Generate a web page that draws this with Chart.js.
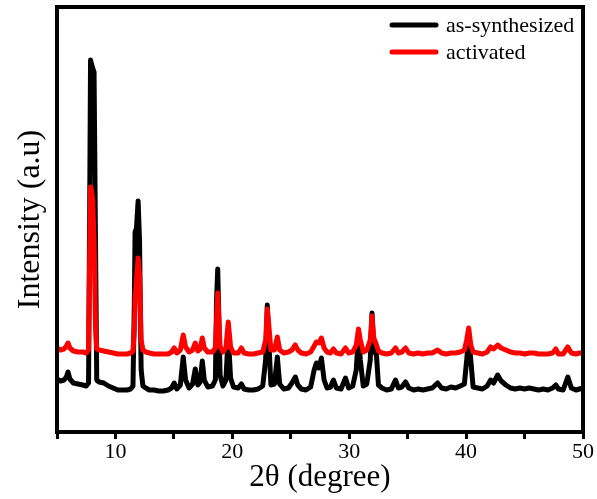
<!DOCTYPE html>
<html>
<head>
<meta charset="utf-8">
<script src="https://cdn.jsdelivr.net/npm/chart.js@4/dist/chart.umd.min.js"></script>
<style>
  html, body { margin: 0; padding: 0; background: #fff; }
  #wrap { width: 597px; height: 499px; }
</style>
</head>
<body>
<div id="wrap"><canvas id="xrd"></canvas></div>
<script>
// 2theta positions (degree)
const twoTheta = [
  5.0, 5.3, 5.6, 5.8, 5.94, 6.1, 6.4, 6.8, 7.2, 7.5,
  7.7, 7.8, 7.87, 7.95, 8.05, 8.17, 8.3, 8.4, 8.6, 9.0,
  9.4, 9.8, 10.2, 10.6, 11.0, 11.3, 11.5, 11.62, 11.68, 11.8,
  11.94, 12.06, 12.2, 12.35, 12.6, 12.9, 13.3, 13.7, 14.1, 14.5,
  14.8, 15.03, 15.25, 15.55, 15.8, 16.0, 16.3, 16.6, 16.83, 17.05,
  17.25, 17.43, 17.6, 17.9, 18.3, 18.55, 18.65, 18.75, 18.85, 18.95,
  19.2, 19.45, 19.65, 19.85, 20.1, 20.5, 20.77, 21.0, 21.4, 21.8,
  22.2, 22.6, 22.85, 22.99, 23.12, 23.3, 23.6, 23.85, 24.05, 24.4,
  24.8, 25.1, 25.39, 25.6, 25.9, 26.3, 26.7, 27.0, 27.19, 27.4,
  27.62, 27.85, 28.1, 28.4, 28.65, 28.9, 29.3, 29.68, 29.95, 30.3,
  30.6, 30.79, 30.95, 31.2, 31.5, 31.8, 31.95, 32.1, 32.33, 32.5,
  32.8, 33.2, 33.6, 33.96, 34.2, 34.5, 34.82, 35.1, 35.5, 35.9,
  36.3, 36.7, 37.1, 37.56, 37.9, 38.3, 38.7, 39.1, 39.5, 39.85,
  40.05, 40.22, 40.4, 40.6, 41.0, 41.4, 41.8, 42.1, 42.35, 42.7,
  43.0, 43.4, 43.8, 44.2, 44.6, 45.0, 45.4, 45.8, 46.2, 46.6,
  47.0, 47.4, 47.67, 47.9, 48.3, 48.7, 49.0, 49.4, 49.7, 50.0
];

// intensity, as-synthesized (a.u.)
const asSynthesized = [
  53, 51, 52, 55, 60, 53, 49, 48, 47, 46,
  49, 232, 372, 368, 364, 360, 182, 52, 50, 49,
  46, 44, 42, 42, 42, 43, 46, 132, 200, 204,
  231, 192, 62, 46, 44, 42, 42, 41, 41, 42,
  44, 49, 43, 47, 75, 52, 44, 48, 63, 47,
  50, 71, 52, 45, 46, 52, 132, 163, 112, 57,
  46, 52, 97, 54, 45, 44, 48, 43, 42, 42,
  43, 46, 72, 127, 92, 47, 48, 75, 48, 43,
  44, 49, 55, 47, 43, 42, 45, 62, 69, 64,
  74, 52, 44, 45, 52, 44, 43, 54, 44, 46,
  62, 97, 72, 46, 48, 72, 119, 82, 77, 47,
  44, 42, 43, 52, 44, 45, 50, 44, 42, 43,
  42, 43, 44, 49, 44, 43, 45, 44, 46, 48,
  72, 96, 72, 45, 44, 43, 46, 52, 49, 57,
  51, 47, 44, 43, 44, 43, 44, 43, 42, 43,
  42, 44, 47, 43, 42, 55, 44, 42, 43, 44
];

// intensity, activated (a.u.)
const activated = [
  84, 82, 83, 86, 89, 84, 81, 80, 80, 79,
  82, 182, 245, 242, 232, 192, 102, 83, 82, 81,
  80, 79, 78, 78, 78, 79, 81, 102, 132, 152,
  174, 157, 92, 82, 80, 79, 78, 78, 78, 78,
  80, 84, 79, 82, 97, 85, 80, 82, 89, 81,
  83, 94, 84, 80, 80, 84, 112, 139, 112, 86,
  80, 84, 110, 85, 79, 79, 84, 79, 78, 78,
  79, 80, 92, 123, 107, 82, 82, 95, 82, 79,
  80, 82, 87, 82, 79, 78, 80, 86, 90, 89,
  94, 84, 80, 79, 83, 79, 78, 84, 79, 80,
  87, 103, 92, 80, 82, 92, 116, 94, 87, 81,
  79, 78, 79, 84, 79, 80, 84, 79, 78, 79,
  78, 79, 79, 82, 79, 78, 79, 79, 80, 82,
  92, 104, 87, 80, 79, 78, 80, 85, 83, 87,
  84, 82, 80, 79, 79, 78, 79, 79, 78, 78,
  78, 79, 83, 78, 78, 85, 79, 78, 79, 79
];

const xTicks = [10, 20, 30, 40, 50];

const serif = "'Liberation Serif', 'Times New Roman', serif";

function toPoints(ys) {
  return twoTheta.map((x, i) => ({ x: x, y: ys[i] }));
}

// frame (top + right sides) and the legend inside the plot
const frameAndLegend = {
  id: 'frameAndLegend',
  afterDraw(chart) {
    const ctx = chart.ctx;
    const a = chart.chartArea;
    ctx.save();
    ctx.strokeStyle = '#000';
    ctx.lineWidth = 4;
    ctx.strokeRect(a.left, a.top, a.right - a.left, a.bottom - a.top);

    ctx.font = '22px ' + serif;
    ctx.textBaseline = 'middle';
    ctx.lineCap = 'round';
    chart.data.datasets.forEach(function(ds, i) {
      const y = 25 + i * 27;
      ctx.strokeStyle = ds.borderColor;
      ctx.lineWidth = 5;
      ctx.beginPath();
      ctx.moveTo(392, y);
      ctx.lineTo(436, y);
      ctx.stroke();
      ctx.fillStyle = '#000';
      ctx.fillText(ds.label, 446, y + 1);
    });
    ctx.restore();
  }
};

new Chart(document.getElementById('xrd'), {
  type: 'line',
  data: {
    datasets: [{
      label: 'as-synthesized',
      data: toPoints(asSynthesized),
      borderColor: '#000000',
      borderWidth: 5,
      pointRadius: 0,
      tension: 0,
      borderJoinStyle: 'round',
      borderCapStyle: 'round',
      order: 1
    }, {
      label: 'activated',
      data: toPoints(activated),
      borderColor: '#ff0000',
      borderWidth: 5,
      pointRadius: 0,
      tension: 0,
      borderJoinStyle: 'round',
      borderCapStyle: 'round',
      order: 0
    }]
  },
  options: {
    responsive: true,
    maintainAspectRatio: false,
    animation: false,
    layout: { padding: { top: 7, right: 14, left: 0, bottom: 0 } },
    plugins: {
      legend: { display: false },
      tooltip: { enabled: false }
    },
    scales: {
      x: {
        type: 'linear',
        min: 5,
        max: 50,
        afterFit: function(scale) { scale.height = 67; },
        ticks: {
          stepSize: 5,
          autoSkip: false,
          maxRotation: 0,
          padding: 0,
          color: '#000',
          font: { family: serif, size: 22 },
          callback: function(v) { return xTicks.includes(v) ? String(v) : ''; }
        },
        grid: {
          drawOnChartArea: false,
          drawTicks: true,
          tickLength: 7,
          tickWidth: 3,
          tickColor: '#000'
        },
        border: { display: true, color: '#000', width: 4 },
        title: {
          display: true,
          text: '2θ (degree)',
          color: '#000',
          font: { family: serif, size: 31 },
          padding: { top: 0, bottom: 3 }
        }
      },
      y: {
        min: 0,
        max: 425,
        afterFit: function(scale) { scale.width = 57; },
        ticks: { display: false },
        grid: { display: false },
        border: { display: true, color: '#000', width: 4 },
        title: {
          display: true,
          text: 'Intensity (a.u)',
          color: '#000',
          font: { family: serif, size: 32 },
          padding: { top: 11, bottom: 0 }
        }
      }
    }
  },
  plugins: [frameAndLegend]
});
</script>
</body>
</html>
